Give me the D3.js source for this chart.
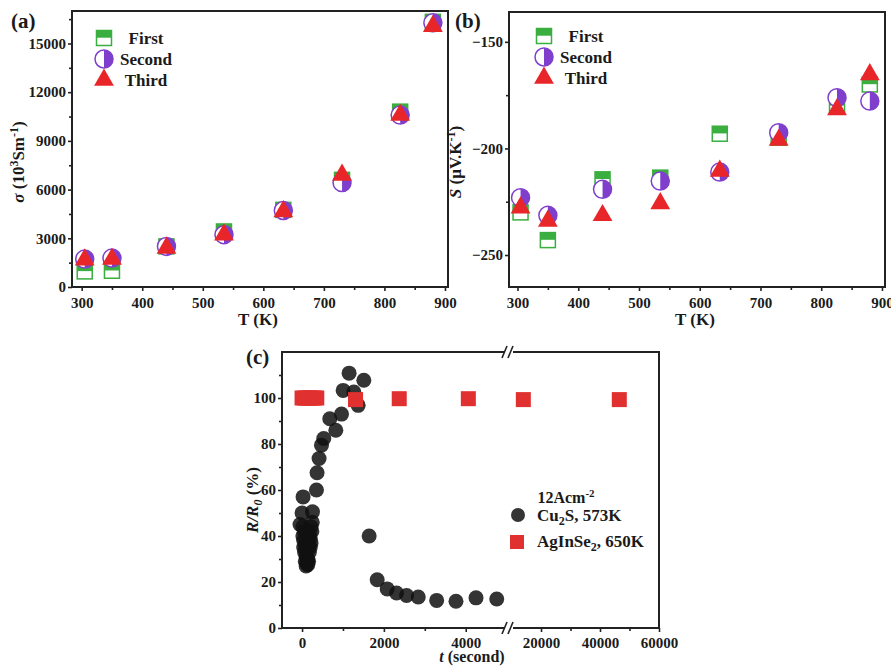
<!DOCTYPE html>
<html>
<head>
<meta charset="utf-8">
<script src="https://cdn.jsdelivr.net/npm/d3@7"></script>
<style>
  body { margin: 0; background: #fff; }
  svg text { font-family: 'Liberation Serif', 'Times New Roman', serif; font-weight: bold; fill: #1a1a1a; }
</style>
</head>
<body>
<svg id="chart" width="891" height="666"></svg>
<script>
// Panels (a) and (b): three thermal cycles
const temps = [305, 350, 440, 535, 633, 730, 826, 880];
const sigmaFirst = [960, 1000, 2500, 3420, 4750, 6600, 10800, 16330];
const sigmaSecond = [1720, 1780, 2500, 3220, 4710, 6430, 10590, 16270];
const sigmaThird = [1680, 1720, 2400, 3220, 4650, 6900, 10590, 16060];
const seebeckFirst = [-230, -243, -214.5, -213.7, -193.1, -195, -180, -170];
const seebeckSecond = [-223.1, -231.4, -219.2, -215.3, -211.1, -192.6, -176.2, -177.8];
const seebeckThird = [-227.8, -234, -231.4, -225.8, -210.6, -196.1, -181.7, -165.3];
const cycleNames = ["First", "Second", "Third"];

const tempTicks = [300, 400, 500, 600, 700, 800, 900];
const tempMinor = [350, 450, 550, 650, 750, 850];
const sigmaTicks = [0, 3000, 6000, 9000, 12000, 15000];
const sigmaMinor = [1500, 4500, 7500, 10500, 13500, 16500];
const seebeckTicks = [-250, -200, -150];
const seebeckMinor = [-225, -175];

// Panel (c): resistance vs time
const cuTime = [25, 0, 255, -50, 20, 60, 100, 140, 180, 220, 250, 40, 80, 120, 160, 200, 240,
  60, 100, 140, 180, 220, 80, 120, 160, 100, 140, 40, 20, 200,
  352, 367, 416, 475, 531, 678, 825, 964, 1004, 1150, 1265, 1371, 1510,
  1640, 1836, 2081, 2310, 2555, 2840, 3290, 3762, 4252, 4758];
const cuRatio = [57, 50, 50.5, 45, 44, 42, 40, 38, 41, 44, 46, 38, 36, 34, 36, 39, 42,
  33, 31, 30, 33, 37, 29, 28, 29, 27, 27.5, 35, 40, 35,
  60, 67.5, 73.7, 79.5, 82.4, 91, 86, 93, 103.3, 110.8, 102.6, 96.8, 107.7,
  40, 21, 17, 15.2, 14.1, 13.5, 12, 11.6, 13.1, 12.6];
const agTime = [0, 60, 120, 180, 240, 300, 360, 1307, 2375, 4064, 14000, 46540];
const agRatio = [100, 100, 100, 100, 100, 100, 100, 99.3, 99.7, 99.7, 99.3, 99.3];

const timeTicksLeft = [0, 2000, 4000];
const timeMinorLeft = [1000, 3000];
const timeTicksRight = [20000, 40000, 60000];
const timeMinorRight = [30000, 50000];
const ratioTicks = [0, 20, 40, 60, 80, 100];
const ratioMinor = [10, 30, 50, 70, 90, 110];

const green = "#3aae3e";
const purple = "#7f3fcc";
const red = "#e8262a";
const ink = "#222";

const svg = d3.select("#chart");

function styleAxis(g, size) {
  g.select(".domain").remove();
  g.selectAll(".tick line").attr("stroke", ink).attr("stroke-width", 1.6);
  g.selectAll(".tick text").attr("font-size", size || 15).attr("fill", "#1a1a1a");
}

function drawSquare(g, x, y) {
  const s = 15;
  g.append("rect").attr("x", x - s / 2).attr("y", y - s / 2).attr("width", s).attr("height", s)
    .attr("fill", "white").attr("stroke", green).attr("stroke-width", 1.5);
  g.append("rect").attr("x", x - s / 2).attr("y", y - s / 2).attr("width", s).attr("height", s * 0.48)
    .attr("fill", green);
}

function drawHalfCircle(g, x, y) {
  const r = 9;
  g.append("circle").attr("cx", x).attr("cy", y).attr("r", r)
    .attr("fill", "white").attr("stroke", purple).attr("stroke-width", 1.5);
  g.append("path").attr("transform", `translate(${x},${y})`)
    .attr("d", `M0,${-r} A${r},${r} 0 0 1 0,${r} Z`).attr("fill", purple);
}

function drawTriangle(g, x, y) {
  g.append("path").attr("transform", `translate(${x},${y})`)
    .attr("d", d3.symbol().type(d3.symbolTriangle).size(170)()).attr("fill", red);
}

const markers = [drawSquare, drawHalfCircle, drawTriangle];

function drawCyclePanel(opt) {
  const x = d3.scaleLinear().domain(opt.xDomain).range([opt.left, opt.right]);
  const y = d3.scaleLinear().domain(opt.yDomain).range([opt.bottom, opt.top]);

  // axes
  const xa = svg.append("g").attr("transform", `translate(0,${opt.bottom})`)
    .call(d3.axisBottom(x).tickValues(tempTicks).tickSize(4).tickPadding(6).tickFormat(d3.format("d")));
  styleAxis(xa);
  const xm = svg.append("g").attr("transform", `translate(0,${opt.bottom})`)
    .call(d3.axisBottom(x).tickValues(tempMinor).tickSize(3).tickFormat(""));
  styleAxis(xm);
  const ya = svg.append("g").attr("transform", `translate(${opt.left},0)`)
    .call(d3.axisLeft(y).tickValues(opt.yTicks).tickSize(4).tickPadding(2).tickFormat(d3.format("d")));
  styleAxis(ya);
  const ym = svg.append("g").attr("transform", `translate(${opt.left},0)`)
    .call(d3.axisLeft(y).tickValues(opt.yMinor).tickSize(3).tickFormat(""));
  styleAxis(ym);

  // points
  const pts = svg.append("g");
  opt.series.forEach((vals, i) => {
    temps.forEach((t, j) => markers[i](pts, x(t), y(vals[j])));
  });

  svg.append("rect").attr("x", opt.left).attr("y", opt.top)
    .attr("width", opt.right - opt.left).attr("height", opt.bottom - opt.top)
    .attr("fill", "none").attr("stroke", ink).attr("stroke-width", 2);

  // legend
  const lg = svg.append("g");
  cycleNames.forEach((name, i) => {
    const ly = opt.legendY + i * 21;
    markers[i](lg, opt.legendX, ly);
    lg.append("text").attr("x", opt.legendX + 42).attr("y", ly + 6)
      .attr("text-anchor", "middle").attr("font-size", 17).text(name);
  });

  svg.append("text").attr("x", opt.labelX).attr("y", 28).attr("font-size", 21).text(opt.label);

  svg.append("text").attr("x", (opt.left + opt.right) / 2 - 2).attr("y", 325)
    .attr("text-anchor", "middle").attr("font-size", 17).text("T (K)");

  const yt = svg.append("text").attr("transform", `translate(${opt.left - 48},162) rotate(-90)`)
    .attr("text-anchor", "middle").attr("font-size", 17);
  opt.yTitle(yt);
}

drawCyclePanel({
  left: 72, right: 448, top: 11, bottom: 287,
  xDomain: [284, 905], yDomain: [0, 17000],
  yTicks: sigmaTicks, yMinor: sigmaMinor,
  series: [sigmaFirst, sigmaSecond, sigmaThird],
  legendX: 104, legendY: 38, label: "(a)", labelX: 11,
  yTitle: t => {
    t.append("tspan").attr("font-style", "italic").text("σ");
    t.append("tspan").text(" (10");
    t.append("tspan").attr("dy", -6).attr("font-size", 12).text("3");
    t.append("tspan").attr("dy", 6).text("Sm");
    t.append("tspan").attr("dy", -6).attr("font-size", 12).text("-1");
    t.append("tspan").attr("dy", 6).text(")");
  }
});

drawCyclePanel({
  left: 509, right: 885, top: 12, bottom: 287,
  xDomain: [286, 905], yDomain: [-265, -136],
  yTicks: seebeckTicks, yMinor: seebeckMinor,
  series: [seebeckFirst, seebeckSecond, seebeckThird],
  legendX: 544, legendY: 36, label: "(b)", labelX: 455,
  yTitle: t => {
    t.append("tspan").attr("font-style", "italic").text("S");
    t.append("tspan").text(" (μV.K");
    t.append("tspan").attr("dy", -6).attr("font-size", 12).text("-1");
    t.append("tspan").attr("dy", 6).text(")");
  }
});

// Panel (c)
const cLeft = 282, cRight = 659, cTop = 352, cBottom = 628;
const breakA = 505, breakB = 513;
const xL = d3.scaleLinear().domain([-490, 4960]).range([cLeft, breakA]);
const xR = d3.scaleLinear().domain([10500, 60000]).range([breakB, cRight]);
const xT = t => t < 8000 ? xL(t) : xR(t);
const yC = d3.scaleLinear().domain([0, 120]).range([cBottom, cTop]);

[[xL, timeTicksLeft, timeMinorLeft], [xR, timeTicksRight, timeMinorRight]].forEach(([sc, major, minor]) => {
  const a = svg.append("g").attr("transform", `translate(0,${cBottom})`)
    .call(d3.axisBottom(sc).tickValues(major).tickSize(4).tickPadding(5).tickFormat(d3.format("d")));
  styleAxis(a);
  const m = svg.append("g").attr("transform", `translate(0,${cBottom})`)
    .call(d3.axisBottom(sc).tickValues(minor).tickSize(3).tickFormat(""));
  styleAxis(m);
});
const yca = svg.append("g").attr("transform", `translate(${cLeft},0)`)
  .call(d3.axisLeft(yC).tickValues(ratioTicks).tickSize(4).tickPadding(2));
styleAxis(yca);
const ycm = svg.append("g").attr("transform", `translate(${cLeft},0)`)
  .call(d3.axisLeft(yC).tickValues(ratioMinor).tickSize(3).tickFormat(""));
styleAxis(ycm);

const cu = svg.append("g");
cuTime.forEach((t, i) => {
  cu.append("circle").attr("cx", xT(t)).attr("cy", yC(cuRatio[i])).attr("r", 7.5)
    .attr("fill", "#111").attr("fill-opacity", 0.85);
});
const ag = svg.append("g");
agTime.forEach((t, i) => {
  ag.append("rect").attr("x", xT(t) - 7.5).attr("y", yC(agRatio[i]) - 7.5)
    .attr("width", 15).attr("height", 15).attr("fill", "#e03030");
});

// frame with axis break
const frame = svg.append("g").attr("stroke", ink).attr("stroke-width", 2).attr("fill", "none");
frame.append("path").attr("d",
  `M${breakA},${cTop} H${cLeft} V${cBottom} H${breakA} M${breakB},${cBottom} H${cRight} V${cTop} H${breakB}`);
[cTop, cBottom].forEach(yy => {
  [breakA - 1, breakB - 3].forEach(xx => {
    frame.append("line").attr("x1", xx - 2).attr("y1", yy + 6).attr("x2", xx + 3).attr("y2", yy - 6)
      .attr("stroke-width", 1.6);
  });
});

svg.append("text").attr("x", 246).attr("y", 364).attr("font-size", 21).text("(c)");

const xct = svg.append("text").attr("x", 472).attr("y", 662).attr("text-anchor", "middle").attr("font-size", 16);
xct.append("tspan").attr("font-style", "italic").text("t");
xct.append("tspan").text(" (second)");

const yct = svg.append("text").attr("transform", "translate(258,500) rotate(-90)")
  .attr("text-anchor", "middle").attr("font-size", 17);
yct.append("tspan").attr("font-style", "italic").text("R/R");
yct.append("tspan").attr("font-style", "italic").attr("dy", 4).attr("font-size", 12).text("0");
yct.append("tspan").attr("dy", -4).text(" (%)");

// legend (c)
const lc = svg.append("g");
const t12 = lc.append("text").attr("x", 566).attr("y", 503).attr("text-anchor", "middle").attr("font-size", 16);
t12.append("tspan").text("12Acm");
t12.append("tspan").attr("dy", -6).attr("font-size", 11).text("-2");
lc.append("circle").attr("cx", 518).attr("cy", 515).attr("r", 7).attr("fill", "#111").attr("fill-opacity", 0.85);
const tcu = lc.append("text").attr("x", 537).attr("y", 521).attr("font-size", 17);
tcu.append("tspan").text("Cu");
tcu.append("tspan").attr("dy", 4).attr("font-size", 12).text("2");
tcu.append("tspan").attr("dy", -4).text("S, 573K");
lc.append("rect").attr("x", 510).attr("y", 535).attr("width", 14).attr("height", 14).attr("fill", "#e03030");
const tag = lc.append("text").attr("x", 537).attr("y", 547).attr("font-size", 17);
tag.append("tspan").text("AgInSe");
tag.append("tspan").attr("dy", 4).attr("font-size", 12).text("2");
tag.append("tspan").attr("dy", -4).text(", 650K");
</script>
</body>
</html>
